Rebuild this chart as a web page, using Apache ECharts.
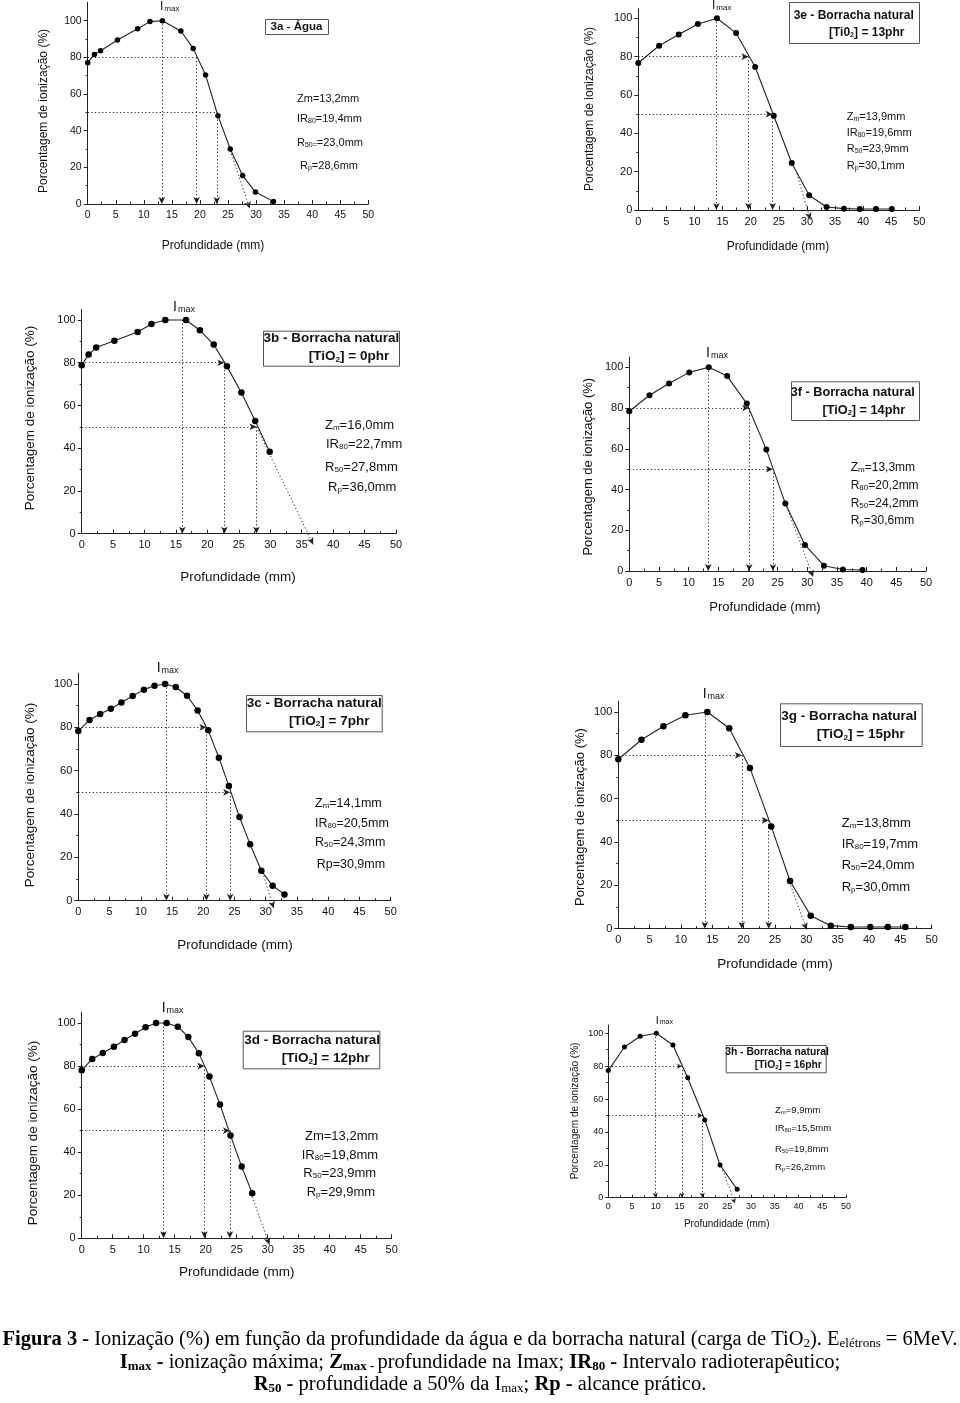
<!DOCTYPE html>
<html><head><meta charset="utf-8">
<script src="https://cdn.jsdelivr.net/npm/echarts@6/dist/echarts.min.js"></script>
<style>html,body{margin:0;padding:0;background:#fff}#c{width:960px;height:1403px}</style>
</head><body><div id="c"></div>
<script>
// ---------------- data ----------------
const xTickLabels = [0,5,10,15,20,25,30,35,40,45,50];
const yTickLabels = [0,20,40,60,80,100];

const a_depth = [0,1.2,2.3,5.3,8.9,11.1,13.3,16.6,18.8,21.0,23.2,25.4,27.6,29.9,33.1];
const a_ion   = [77.1,81.6,83.6,89.5,95.6,99.5,100,94.4,84.9,70.4,48.2,30.0,15.5,6.5,1.3];
const a_params = [13.2,19.4,23.0,28.6];   // Zm, IR80, R50, Rp
const a_tangent = [25.2,31];

const b_depth = [0,1.1,2.3,5.2,8.9,11.1,13.3,16.6,18.8,21.0,23.1,25.4,27.6,29.9];
const b_ion   = [78.8,83.9,87.1,90.3,94.4,98.1,100,100,95.2,88.5,78.3,66.1,52.7,38.4];
const b_params = [16.0,22.7,27.8,36.0];
const b_tangent = [27.8,50];

const c_depth = [0,1.8,3.5,5.2,6.9,8.7,10.5,12.2,13.9,15.6,17.4,19.1,20.8,22.5,24.1,25.8,27.5,29.3,31.1,33.0];
const c_ion   = [78.3,83.4,86.2,88.6,91.5,94.5,97.4,99.2,100,98.6,94.6,87.8,78.6,66.0,52.9,38.6,26.0,13.8,6.9,2.9];
const c_params = [14.1,20.5,24.3,30.9];
const c_tangent = [29.5,13];

const d_depth = [0,1.7,3.4,5.2,6.9,8.6,10.3,12.0,13.7,15.5,17.2,18.9,20.6,22.3,24.0,25.8,27.5];
const d_ion   = [78.0,83.3,86.1,89.0,92.1,95.0,98.0,100,100,98.3,93.5,85.9,75.1,62.2,47.8,33.3,20.9];
const d_params = [13.2,19.8,23.9,29.9];
const d_tangent = [27.5,19.4];

const e_depth = [0,3.7,7.2,10.6,14.0,17.4,20.8,24.1,27.3,30.4,33.5,36.6,39.4,42.3,45.1];
const e_ion   = [76.7,85.7,91.5,97.0,100,92.3,74.6,49.2,24.5,7.7,1.6,0.7,0.5,0.5,0.5];
const e_params = [13.9,19.6,23.9,30.1];
const e_tangent = [28.2,19];

const f_depth = [0,3.4,6.7,10.1,13.4,16.5,19.8,23.1,26.3,29.6,32.8,36.0,39.3];
const f_ion   = [78.4,86.3,92.0,97.5,100,95.7,82.2,59.6,33.1,12.8,2.6,0.7,0.5];
const f_params = [13.3,20.2,24.2,30.6];
const f_tangent = [26.5,31.6];

const g_depth = [0,3.7,7.2,10.7,14.2,17.7,21.0,24.4,27.4,30.7,33.9,37.1,40.2,43.0,45.8];
const g_ion   = [78.2,87.2,93.4,98.5,100,92.5,74.2,47.2,22.0,6.0,1.4,0.8,0.8,0.8,0.8];
const g_params = [13.8,19.7,24.0,30.0];
const g_tangent = [27.5,20];

const h_depth = [0,3.4,6.7,10.1,13.6,16.7,20.3,23.5,27.1];
const h_ion   = [77.3,91.7,98.2,100,92.9,73.0,47.3,19.9,5.1];
const h_params = [9.9,15.5,19.8,26.2];
const h_tangent = [23.8,18.9];

// ---------------- layout ----------------
const FONT = 'Liberation Sans, Arial, Helvetica, sans-serif';
const SERIF = 'Liberation Serif, Times New Roman, serif';
const INK = '#111';

const panels = [
 {depth:a_depth, ion:a_ion, params:a_params, tan:a_tangent, tanExt:2.5,
  L:87.7,R:368.3,Y0:204,Y100:20.7,ymax:110, tickFs:10.5, sym:5.5, harrow:false,
  xt:[213,246,12], yt:[44,111,12], imax:[160,1,12,8],
  statLbl:[['Zm',''],['IR','80'],['R','50='],['R','p']],
  stats:{xs:[297,297,297,300], ys:[99,119,143,166], fs:11, sub:7},
  box:[265,19,328,34], boxFs:11.5, boxLines:[['{a|3a - Água}',296.5,27]]},
 {depth:e_depth, ion:e_ion, params:e_params, tan:e_tangent, tanExt:5,
  L:638.3,R:919.3,Y0:210,Y100:18.3,ymax:105, tickFs:11, sym:6, harrow:true,
  xt:[778,247,12], yt:[590,109,12], imax:[712,0,12,8],
  statLbl:[['Z','m'],['IR','80'],['R','50'],['R','p']],
  stats:{xs:[846.7,846.7,846.7,846.7], ys:[117,133,149,166], fs:11, sub:7},
  box:[789,2,919,43], boxFs:12, boxLines:[['{a|3e - Borracha natural}',853.7,16],['{a|[Ti0}{s|2}{a|] = 13phr}',866.7,33]]},
 {depth:b_depth, ion:b_ion, params:b_params, tan:b_tangent, tanExt:5,
  L:81.7,R:396,Y0:533.7,Y100:320,ymax:105, tickFs:11, sym:6.5, harrow:true,
  xt:[238,577.7,13.5], yt:[30,418,13.5], imax:[173,300,14,9],
  statLbl:[['Z','m'],['IR','80'],['R','50'],['R','p']],
  stats:{xs:[325,326,325,328], ys:[425.7,444,467,487.3], fs:13, sub:8},
  box:[263,330.7,399,365.7], boxFs:13.5, boxLines:[['{a|3b - Borracha natural}',331.3,338],['{a|[TiO}{s|2}{a|] = 0phr}',349,356.7]]},
 {depth:f_depth, ion:f_ion, params:f_params, tan:f_tangent, tanExt:3,
  L:629.3,R:926,Y0:571,Y100:367.3,ymax:105, tickFs:11, sym:6, harrow:true,
  xt:[765,607.7,13], yt:[588,466.7,13], imax:[706,346,14,9],
  statLbl:[['Z','m'],['R','80'],['R','50'],['R','p']],
  stats:{xs:[850.7,850.7,850.7,850.7], ys:[468,485.7,503.7,520.7], fs:12, sub:8},
  box:[791,381.3,919,420], boxFs:12.7, boxLines:[['{a|3f - Borracha natural}',852.7,392.7],['{a|[TiO}{s|2}{a|] = 14phr}',863.8,410.7]]},
 {depth:c_depth, ion:c_ion, params:c_params, tan:c_tangent, tanExt:3.5,
  L:78.3,R:390.7,Y0:900.7,Y100:684,ymax:105, tickFs:11, sym:6.5, harrow:true,
  xt:[235,945,13.5], yt:[30,795,13.5], imax:[156.7,661,14,9],
  statLbl:[['Z','m'],['IR','80'],['R','50'],['Rp','']],
  stats:{xs:[315,315,315,316.7], ys:[803.3,823.3,842.7,865], fs:12.5, sub:8},
  box:[246,695,381.7,731.3], boxFs:13.5, boxLines:[['{a|3c - Borracha natural}',314.2,703.3],['{a|[TiO}{s|2}{a|] = 7phr}',329.2,721]]},
 {depth:g_depth, ion:g_ion, params:g_params, tan:g_tangent, tanExt:0.5,
  L:618.3,R:931.7,Y0:928.7,Y100:712,ymax:105, tickFs:11, sym:6.5, harrow:true,
  xt:[775,964,13.5], yt:[580,817,13], imax:[702.7,687,14,9],
  statLbl:[['Z','m'],['IR','80'],['R','50'],['R','p']],
  stats:{xs:[841.7,841.7,841.7,841.7], ys:[823.3,844,865.7,887.7], fs:13, sub:8},
  box:[780,703.3,921.7,746], boxFs:13.5, boxLines:[['{a|3g - Borracha natural}',849.2,716],['{a|[TiO}{s|2}{a|] = 15phr}',860.8,734.3]]},
 {depth:d_depth, ion:d_ion, params:d_params, tan:d_tangent, tanExt:3,
  L:81.7,R:391.7,Y0:1238.3,Y100:1023,ymax:105, tickFs:11, sym:6.5, harrow:true,
  xt:[236.7,1272.3,13.5], yt:[33,1133,13.5], imax:[161.7,1001,14,9],
  statLbl:[['Zm',''],['IR','80'],['R','50'],['R','p']],
  stats:{xs:[305,301.7,303.3,306.7], ys:[1136.7,1155,1173.3,1192.7], fs:13, sub:8},
  box:[242.7,1030.7,379.3,1068.3], boxFs:13.5, boxLines:[['{a|3d - Borracha natural}',312.2,1040.7],['{a|[TiO}{s|2}{a|] = 12phr}',325.8,1058.3]]},
 {depth:h_depth, ion:h_ion, params:h_params, tan:h_tangent, tanExt:3.4,
  L:608.3,R:846,Y0:1197.7,Y100:1033.3,ymax:105, tickFs:9, sym:5, harrow:true,
  xt:[726.7,1224,10], yt:[575,1111,10], imax:[655.7,1015,11,7],
  statLbl:[['Z','m'],['IR','80'],['R','50'],['R','p']],
  stats:{xs:[775,775,775,775], ys:[1110,1128.7,1149.3,1167.3], fs:9.5, sub:6},
  box:[725.7,1045,825.7,1072.3], boxFs:10.3, boxLines:[['{a|3h - Borracha natural}',777,1051.7],['{a|[TiO}{s|2}{a|] = 16phr}',788.3,1065]]}
];

function fmt(v){ return v.toFixed(1).replace('.', ','); }
function txt(x, y, text, fs, extra){
  const st = Object.assign({text:text, fill:INK, fontSize:fs, fontFamily:FONT, align:'center', verticalAlign:'middle'}, extra && extra.style || {});
  const el = {type:'text', x:x, y:y, silent:true, z:10, style:st};
  if (extra && extra.rotation) el.rotation = extra.rotation;
  return el;
}

const grids = [], xAxes = [], yAxes = [], series = [], graphic = [];
const tangentSeriesIdx = [];
panels.forEach((p, i) => {
  const h = (p.Y0 - p.Y100) * p.ymax / 100;
  grids.push({left:p.L, top:p.Y0 - h, width:p.R - p.L, height:h, containLabel:false});
  const small = p.tickFs < 10;
  xAxes.push({gridIndex:i, type:'value', min:0, max:50, interval:5,
    axisLine:{show:true, onZero:false, lineStyle:{color:'#222', width:1}},
    axisTick:{show:true, inside:true, length:small?3:4, lineStyle:{color:'#222'}},
    minorTick:{show:true, splitNumber:2, length:2.5, lineStyle:{color:'#222'}},
    splitLine:{show:false}, minorSplitLine:{show:false},
    axisLabel:{customValues:xTickLabels, fontSize:p.tickFs, color:INK, fontFamily:FONT, margin:small?4:6}});
  yAxes.push({gridIndex:i, type:'value', min:0, max:p.ymax, interval:20,
    axisLine:{show:true, onZero:false, lineStyle:{color:'#222', width:1}},
    axisTick:{show:true, customValues:yTickLabels, length:small?3:4, lineStyle:{color:'#222'}},
    minorTick:{show:true, splitNumber:2, length:2, lineStyle:{color:'#222'}},
    splitLine:{show:false}, minorSplitLine:{show:false},
    axisLabel:{customValues:yTickLabels, fontSize:p.tickFs, color:INK, fontFamily:FONT, margin:small?5:6}});

  const [zm, ir80, r50, rp] = p.params;
  const hEnd = p.harrow ? {} : {symbol:'none'};
  series.push({type:'line', xAxisIndex:i, yAxisIndex:i,
    data:p.depth.map((d, j) => [d, p.ion[j]]),
    symbol:'circle', symbolSize:p.sym, showSymbol:true, silent:true, animation:false, z:3,
    itemStyle:{color:'#000'}, lineStyle:{color:'#222', width:1.1},
    markLine:{silent:true, animation:false, symbol:['none','arrow'], symbolSize:small?[4,5]:[5,7],
      label:{show:false}, emphasis:{disabled:true},
      lineStyle:{type:[1.2,2.4], color:'#222', width:1},
      data:[
        [{coord:[zm,100]},{coord:[zm,0]}],
        [{coord:[0,80]},Object.assign({coord:[ir80,80]}, hEnd)],
        [{coord:[ir80,80]},{coord:[ir80,0]}],
        [{coord:[0,50]},Object.assign({coord:[r50,50]}, hEnd)],
        [{coord:[r50,50]},{coord:[r50,0]}]
      ]}});

  // tangent line through (Rp, 0), extended slightly below the axis, arrow at the end
  const tx = p.tan[0], ty = p.tan[1];
  const xe = rp + (rp - tx) * p.tanExt / ty, ye = -p.tanExt;
  tangentSeriesIdx.push(series.length);
  series.push({type:'line', xAxisIndex:i, yAxisIndex:i, clip:false, silent:true, animation:false, z:2,
    data:[{value:[tx,ty], symbol:'none'}, {value:[xe,ye], symbol:'arrow', symbolSize:small?[4,5]:[5,7]}],
    showSymbol:true, itemStyle:{color:'#222'},
    lineStyle:{type:[1.2,2.4], color:'#222', width:1}});

  // axis titles
  graphic.push(txt(p.xt[0], p.xt[1], 'Profundidade (mm)', p.xt[2]));
  graphic.push(txt(p.yt[0], p.yt[1], 'Porcentagem de ionização (%)', p.yt[2], {rotation:Math.PI/2}));
  // I max
  graphic.push({type:'text', x:p.imax[0], y:p.imax[1], silent:true, z:10, style:{
    text:'{i|I}{m|max}', align:'left', verticalAlign:'top', fill:INK, fontFamily:FONT, fontSize:p.imax[2],
    rich:{i:{fontSize:p.imax[2], fontFamily:FONT, fill:INK}, m:{fontSize:p.imax[3], fontFamily:FONT, fill:INK, verticalAlign:'bottom', padding:[0,0,0,1]}}}});
  // stats
  p.statLbl.forEach((lbl, k) => {
    const t = '{a|' + lbl[0] + '}' + (lbl[1] ? '{s|' + lbl[1] + '}' : '') + '{a|=' + fmt(p.params[k]) + 'mm}';
    graphic.push({type:'text', x:p.stats.xs[k], y:p.stats.ys[k], silent:true, z:10, style:{
      text:t, align:'left', verticalAlign:'middle', fill:INK, fontFamily:FONT, fontSize:p.stats.fs,
      rich:{a:{fontSize:p.stats.fs, fontFamily:FONT, fill:INK}, s:{fontSize:p.stats.sub, fontFamily:FONT, fill:INK, verticalAlign:'bottom', padding:[3,0,0,0]}}}});
  });
  // box
  const b = p.box;
  graphic.push({type:'rect', silent:true, z:9, shape:{x:b[0]+0.5, y:b[1]+0.5, width:b[2]-b[0], height:b[3]-b[1]},
    style:{fill:'#fff', stroke:'#555', lineWidth:1}});
  p.boxLines.forEach(l => {
    graphic.push({type:'text', x:l[1], y:l[2], silent:true, z:10, style:{
      text:l[0], align:'center', verticalAlign:'middle', fill:INK, fontFamily:FONT, fontWeight:'bold', fontSize:p.boxFs,
      rich:{a:{fontSize:p.boxFs, fontFamily:FONT, fontWeight:'bold', fill:INK}, s:{fontSize:p.boxFs*0.6, fontFamily:FONT, fontWeight:'bold', fill:INK, verticalAlign:'bottom', padding:[3,0,0,0]}}}});
  });
});

// caption
const CF = 20.5, CS = 13;
const capRich = {
  b:{fontFamily:SERIF, fontSize:CF, fontWeight:'bold', fill:'#000'},
  r:{fontFamily:SERIF, fontSize:CF, fill:'#000'},
  bs:{fontFamily:SERIF, fontSize:CS, fontWeight:'bold', fill:'#000', verticalAlign:'bottom', padding:[4,0,0,0]},
  rs:{fontFamily:SERIF, fontSize:CS, fill:'#000', verticalAlign:'bottom', padding:[4,0,0,0]}
};
const capLines = [
  ['{b|Figura 3 - }{r|Ionização (%) em função da profundidade da água e da borracha natural (carga de TiO}{rs|2}{r|). E}{rs|elétrons}{r| = 6MeV.}', 1340],
  ['{b|I}{bs|max}{b| - }{r|ionização máxima; }{b|Z}{bs|max - }{r|profundidade na Imax; }{b|IR}{bs|80}{b| - }{r|Intervalo radioterapêutico;}', 1363],
  ['{b|R}{bs|50}{b| - }{r|profundidade a 50% da I}{rs|max}{r|; }{b|Rp - }{r|alcance prático.}', 1385]
];
capLines.forEach(l => {
  graphic.push({type:'text', x:480, y:l[1], silent:true, style:{text:l[0], align:'center', verticalAlign:'middle',
    fontFamily:SERIF, fontSize:CF, fill:'#000', rich:capRich}});
});

const chart = echarts.init(document.getElementById('c'), null, {renderer:'canvas', width:960, height:1403});
chart.setOption({animation:false, backgroundColor:'#fff', grid:grids, xAxis:xAxes, yAxis:yAxes, series:series, graphic:graphic});

// orient the tangent arrowheads along the line, using the chart's own scales
const upd = series.map(() => ({}));
tangentSeriesIdx.forEach((si, i) => {
  const d = series[si].data;
  const p0 = chart.convertToPixel({gridIndex:i}, d[0].value);
  const p1 = chart.convertToPixel({gridIndex:i}, d[1].value);
  const ang = 180 + Math.atan2(p1[0] - p0[0], p1[1] - p0[1]) * 180 / Math.PI;
  upd[si] = {data:[d[0], Object.assign({}, d[1], {symbolRotate:ang})]};
});
chart.setOption({series:upd});
</script>
</body></html>
